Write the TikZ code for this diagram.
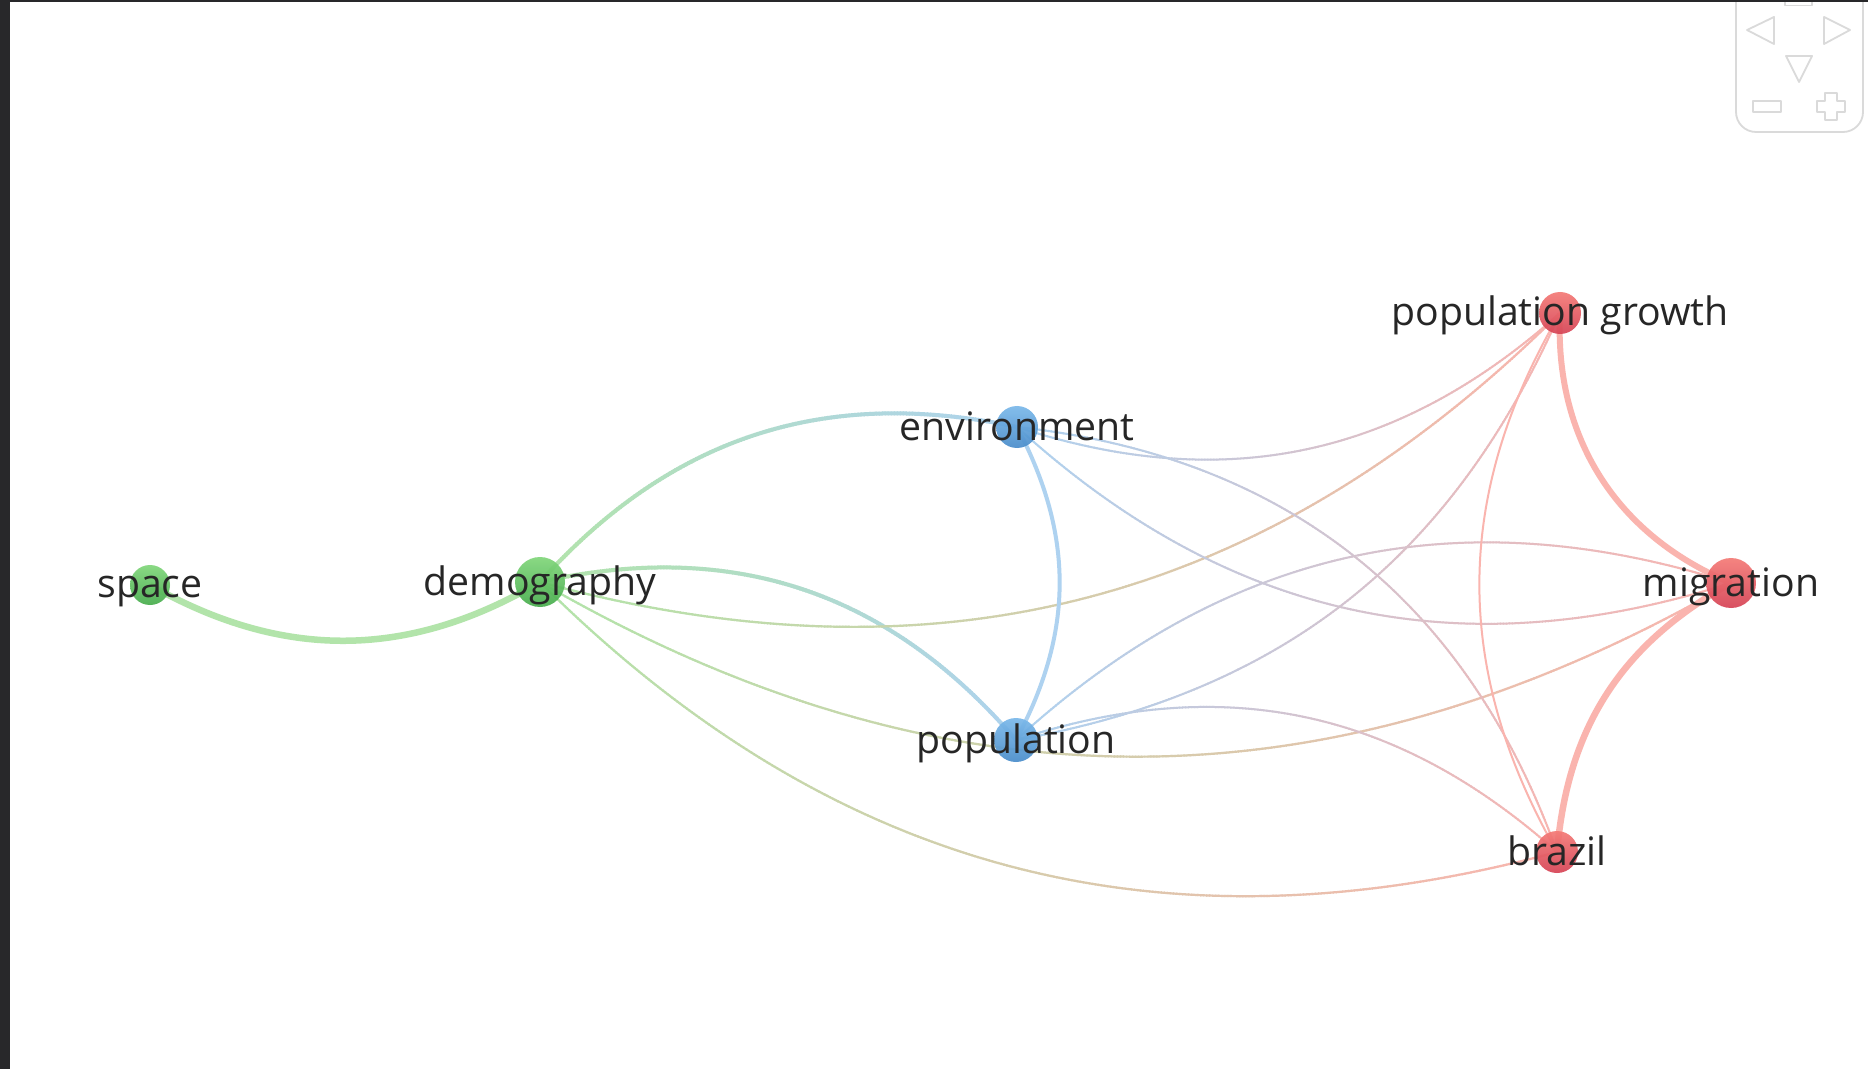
\documentclass[tikz,border=0pt]{standalone}
\usepackage{fontspec}
\newfontfamily\labfont{Open Sans}
\usetikzlibrary{decorations.markings,backgrounds}
\definecolor{gNt}{RGB}{128,214,122}
\definecolor{gNb}{RGB}{70,172,76}
\definecolor{bNt}{RGB}{122,184,234}
\definecolor{bNb}{RGB}{72,140,202}
\definecolor{rNt}{RGB}{244,122,118}
\definecolor{rNb}{RGB}{214,66,84}
\definecolor{gE}{RGB}{178,228,170}
\definecolor{bE}{RGB}{174,210,240}
\definecolor{rE}{RGB}{250,180,174}
\definecolor{navc}{RGB}{218,218,218}
\definecolor{framec}{RGB}{40,40,42}
\definecolor{txt}{RGB}{38,38,38}
\tikzset{
  kw/.style n args={3}{circle, inner sep=0pt, minimum size=#1, top color=#2, bottom color=#3, draw=none, fill opacity=0.92},
  lab/.style={anchor=base, inner sep=0pt, text=txt, font=\labfont\fontsize{19.6}{20}\selectfont},
  plainedge/.style n args={2}{draw=#1, line width=#2},
  gradedge/.style n args={3}{postaction={decorate, decoration={markings,
      mark=between positions 0 and 1 step 1.5pt with {%
        \pgfmathtruncatemacro\gpct{min(100,max(0,(\pgfkeysvalueof{/pgf/decoration/mark info/distance from start})/(\pgfdecoratedpathlength)*100))}%
        \draw[line width=#3, color=#2!\gpct!#1] (-1pt,0) -- (1pt,0);
      }}}},
  navline/.style={draw=navc, line width=0.9pt, line join=round},
}
\begin{document}
\begin{tikzpicture}[x=0.5pt,y=0.5pt]
\useasboundingbox (0,0) rectangle (1868,-1069);
% nodes (circles)
\node[kw={20pt}{gNt}{gNb}] (S) at (150,-585) {};
\node[kw={25pt}{gNt}{gNb}] (D) at (540,-582) {};
\node[kw={21pt}{bNt}{bNb}] (E) at (1017,-427) {};
\node[kw={22pt}{bNt}{bNb}] (P) at (1016,-740) {};
\node[kw={21pt}{rNt}{rNb}] (G) at (1560,-313) {};
\node[kw={25pt}{rNt}{rNb}] (M) at (1731,-583) {};
\node[kw={21pt}{rNt}{rNb}] (B) at (1557,-852) {};
% labels
\node[lab] (LS) at (150,-597.5) {space};
\node[lab] (LD) at (540,-595) {demography};
\node[lab] (LE) at (1017,-440) {environment};
\node[lab] (LP) at (1016,-753) {population};
\node[lab] (LG) at (1560,-326) {population growth};
\node[lab] (LM) at (1731,-596) {migration};
\node[lab] (LB) at (1557,-865) {brazil};
% edges
\begin{scope}[on background layer]
\fill[white] (0,0) rectangle (1868,-1069);
\draw[plainedge={gE}{3.25pt}] (S.center) to[bend right=30] (D.center);
\path[gradedge={gE}{bE}{2pt}] (D.center) to[bend left=30] (E.center);
\path[gradedge={gE}{bE}{2pt}] (D.center) to[bend left=31] (P.center);
\path[gradedge={gE}{rE}{1.1pt}] (D.center) to[bend right=30] (G.center);
\path[gradedge={gE}{rE}{1.1pt}] (D.center) to[bend right=30] (M.center);
\path[gradedge={gE}{rE}{1.1pt}] (D.center) to[bend right=30] (B.center);
\draw[plainedge={bE}{2pt}] (E.center) to[bend left=28] (P.center);
\path[gradedge={bE}{rE}{1pt}] (E.center) to[bend right=30] (G.center);
\path[gradedge={bE}{rE}{1pt}] (E.center) to[bend right=30] (M.center);
\path[gradedge={bE}{rE}{1pt}] (E.center) to[bend left=32] (B.center);
\path[gradedge={bE}{rE}{1pt}] (P.center) to[bend right=28] (G.center);
\path[gradedge={bE}{rE}{1pt}] (P.center) to[bend left=30] (M.center);
\path[gradedge={bE}{rE}{1pt}] (P.center) to[bend left=30] (B.center);
\draw[plainedge={rE}{3pt}] (G.center) to[bend right=35] (M.center);
\draw[plainedge={rE}{3.25pt}] (M.center) to[bend right=28] (B.center);
\draw[plainedge={rE}{1pt}] (G.center) to[bend right=30] (B.center);
\end{scope}
% navigation control
\begin{scope}
\clip (0,0) rectangle (1868,-1069);
\draw[navline, rounded corners=10pt] (1736,40) -- (1736,-132) -- (1863,-132) -- (1863,40);
\draw[navline] (1747,-30) -- (1774,-17) -- (1774,-44) -- cycle;
\draw[navline] (1824,-17) -- (1850,-30) -- (1824,-44) -- cycle;
\draw[navline] (1786,-56) -- (1812,-56) -- (1799,-82) -- cycle;
\draw[navline] (1753,-101) rectangle (1781,-112);
\draw[navline] (1825,-93) -- (1837,-93) -- (1837,-101) -- (1845,-101) -- (1845,-112) -- (1837,-112) -- (1837,-120) -- (1825,-120) -- (1825,-112) -- (1817,-112) -- (1817,-101) -- (1825,-101) -- cycle;
\draw[navline] (1785,5) -- (1785,-5.5) -- (1812,-5.5) -- (1812,5);
% frame
\fill[framec] (0,0) rectangle (10,-1069);
\fill[framec] (0,0) rectangle (1868,-2);
\end{scope}
\end{tikzpicture}
\end{document}
